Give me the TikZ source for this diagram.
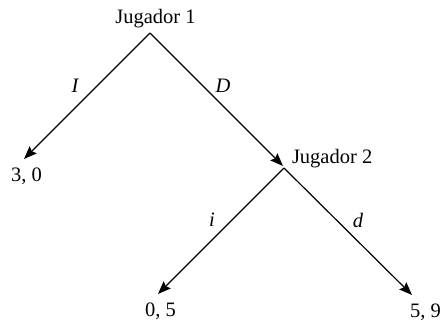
\documentclass[tikz,border=0pt]{standalone}
\usepackage{fontspec}
\setmainfont{Liberation Serif}
\usetikzlibrary{arrows.meta}
\begin{document}
\begin{tikzpicture}[x=1pt,y=-1pt,
  every node/.style={inner sep=0pt,outer sep=0pt,font=\fontsize{20.5}{24}\selectfont},
  move/.style={line width=1.2pt,-{Stealth[length=13pt,width=10pt,inset=2pt]}},
  lbl/.style={font=\fontsize{20.5}{24}\selectfont\itshape}]
\useasboundingbox (0,0) rectangle (443,322);
% decision vertices
\coordinate (r) at (150,33);
\coordinate (j2) at (284,168);
% arrow ends
\coordinate (tI) at (24,159);
\coordinate (tD) at (283,166);
\coordinate (ti) at (158,294);
\coordinate (td) at (412,295);
% player names
\node[anchor=base] (p1) at (155.5,23) {Jugador 1};
\node[anchor=base west] (p2) at (292,163) {Jugador 2};
% payoffs
\node[anchor=base west] (o1) at (11,181) {3, 0};
\node[anchor=base west] (o2) at (145,316) {0, 5};
\node[anchor=base west] (o3) at (410,317) {5, 9};
% moves
\draw[move] (r) -- (tI);
\draw[move] (r) -- (tD);
\draw[move] (j2) -- (ti);
\draw[move] (j2) -- (td);
% move labels
\node[lbl] (lI) at (75,86) {I};
\node[lbl] (lD) at (223,86) {D};
\node[lbl] (li) at (212,220) {i};
\node[lbl] (ld) at (358,220) {d};
\end{tikzpicture}
\end{document}
